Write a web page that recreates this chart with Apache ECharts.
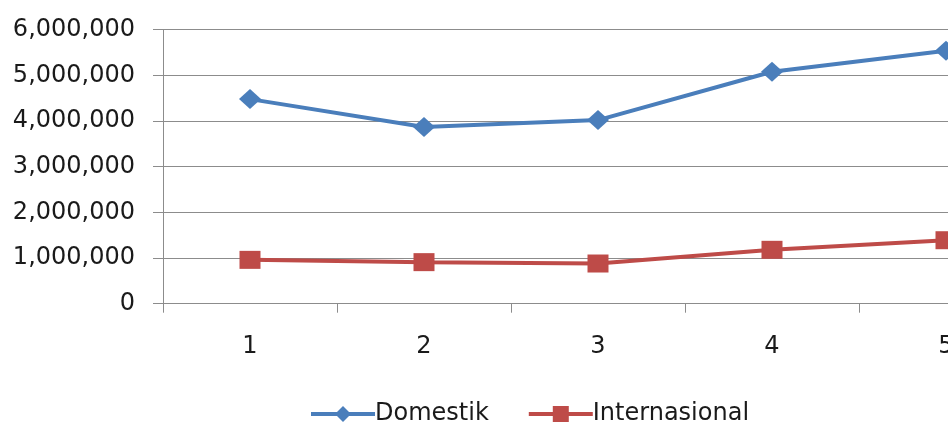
<!DOCTYPE html>
<html><head><meta charset="utf-8">
<script src="https://cdn.jsdelivr.net/npm/echarts@6/dist/echarts.min.js"></script>
<style>html,body{margin:0;padding:0;background:#fff;overflow:hidden;width:948px;height:423px}#c{width:1060px;height:423px}</style>
</head><body><div id="c"></div>
<script>
const categories = ['1','2','3','4','5'];
const domestik = [4480000, 3870000, 4020000, 5080000, 5540000];
const internasional = [960000, 910000, 880000, 1180000, 1390000];
const yTicks = {min: 0, max: 6000000, interval: 1000000};

const FONT = 'DejaVu Sans';
const chart = echarts.init(document.getElementById('c'), null, {renderer: 'canvas'});
chart.setOption({
  animation: false,
  backgroundColor: '#fff',
  grid: {left: 163, top: 29.7, width: 870, bottom: 119.3, containLabel: false},
  legend: {
    left: 304, top: 397, itemWidth: 64, itemHeight: 20, itemGap: 38,
    textStyle: {fontFamily: FONT, fontSize: 24, color: '#1a1a1a', padding: [0,0,0,-5]},
    lineStyle: {width: 4},
    data: ['Domestik', 'Internasional']
  },
  xAxis: {
    type: 'category', data: categories, boundaryGap: true,
    axisLine: {lineStyle: {color: '#8c8c8c', width: 1}},
    axisTick: {show: true, length: 9, alignWithLabel: false, lineStyle: {color: '#8c8c8c'}},
    axisLabel: {fontFamily: FONT, fontSize: 24, color: '#1a1a1a', margin: 31, lineHeight: 24},
    splitLine: {show: false}
  },
  yAxis: {
    type: 'value', min: yTicks.min, max: yTicks.max, interval: yTicks.interval,
    axisLine: {show: true, lineStyle: {color: '#8c8c8c', width: 1}},
    axisTick: {show: true, length: 10, lineStyle: {color: '#8c8c8c'}},
    axisLabel: {fontFamily: FONT, fontSize: 24, color: '#1a1a1a', margin: 28,
      formatter: v => v.toLocaleString('en-US')},
    splitLine: {show: true, lineStyle: {color: '#8c8c8c', width: 1}}
  },
  series: [
    {name: 'Domestik', type: 'line', data: domestik, symbol: 'diamond', symbolSize: [22, 20],
     color: '#4A7EBB', lineStyle: {width: 4, color: '#4A7EBB'}, itemStyle: {color: '#4A7EBB'}},
    {name: 'Internasional', type: 'line', data: internasional, symbol: 'rect', symbolSize: [21, 18],
     color: '#BE4B48', lineStyle: {width: 4, color: '#BE4B48'}, itemStyle: {color: '#BE4B48'}}
  ]
});
</script></body></html>
